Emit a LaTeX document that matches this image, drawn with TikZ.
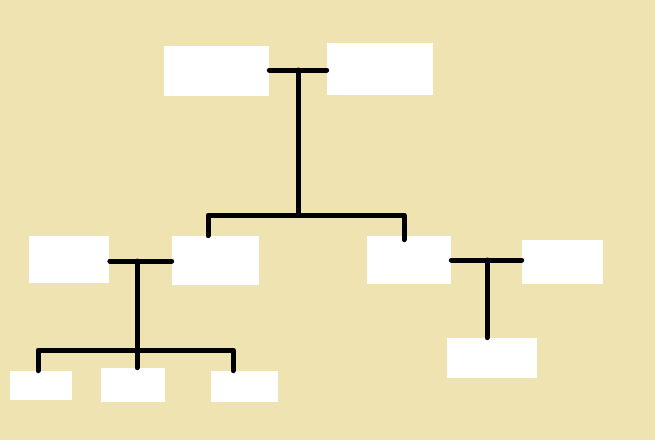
\documentclass[tikz,border=0pt]{standalone}
\definecolor{parchment}{HTML}{EFE3B1}
\begin{document}
\begin{tikzpicture}[x=0.02cm, y=-0.02cm,
                    person/.style = {rectangle,
                                fill=white,
                                inner sep=0pt},
                    link/.style = {line width=0.1cm,
                                line cap=round,
                                line join=round}]
                    \fill[parchment] (0,0) rectangle (655,440);
                    % Grandparents
                    \node[person,minimum width=2.1cm,minimum height=1cm] (gpa) at (216.5,71) {};
                    \node[person,minimum width=2.12cm,minimum height=1.04cm] (gma) at (380,69) {};
                    % Parents, left couple
                    \node[person,minimum width=1.62cm,minimum height=0.94cm] (inlaw) at (69,259.5) {};
                    \node[person,minimum width=1.74cm,minimum height=0.98cm] (son) at (215.5,260.5) {};
                    % Parents, right couple
                    \node[person,minimum width=1.68cm,minimum height=0.96cm] (daughter) at (409,260) {};
                    \node[person,minimum width=1.62cm,minimum height=0.88cm] (spouse) at (562.5,262) {};
                    % Grandchildren
                    \node[person,minimum width=1.24cm,minimum height=0.58cm] (kida) at (41,385.5) {};
                    \node[person,minimum width=1.28cm,minimum height=0.68cm] (kidb) at (133,385) {};
                    \node[person,minimum width=1.34cm,minimum height=0.62cm] (kidc) at (244.5,386.5) {};
                    \node[person,minimum width=1.8cm,minimum height=0.8cm] (kidd) at (492,358) {};
                    % Junction points
                    \coordinate (wed1) at (298,70);
                    \coordinate (fork1) at (298,215);
                    \coordinate (drop1) at (208,215);
                    \coordinate (drop2) at (404,215);
                    \coordinate (wed2) at (137,261);
                    \coordinate (fork2) at (137,350);
                    \coordinate (drop3) at (38,350);
                    \coordinate (drop4) at (233,350);
                    \coordinate (wed3) at (487,260);
                    % Marriage lines
                    \draw[link] (gpa.east |- wed1) -- (gma.west |- wed1);
                    \draw[link] (inlaw.east |- wed2) -- (son.west |- wed2);
                    \draw[link] (daughter.east |- wed3) -- (spouse.west |- wed3);
                    % Descent lines
                    \draw[link] (wed1) -- (fork1);
                    \draw[link] (drop1 |- son.north) -- (drop1) -- (drop2) -- ([yshift=-0.08cm]drop2 |- daughter.north);
                    \draw[link] (wed2) -- (fork2);
                    \draw[link] (drop3 |- kida.north) -- (drop3) -- (drop4) -- (drop4 |- kidc.north);
                    \draw[link] (fork2) -- (kidb.north -| fork2);
                    \draw[link] (wed3) -- (kidd.north -| wed3);
                \end{tikzpicture}
\end{document}
